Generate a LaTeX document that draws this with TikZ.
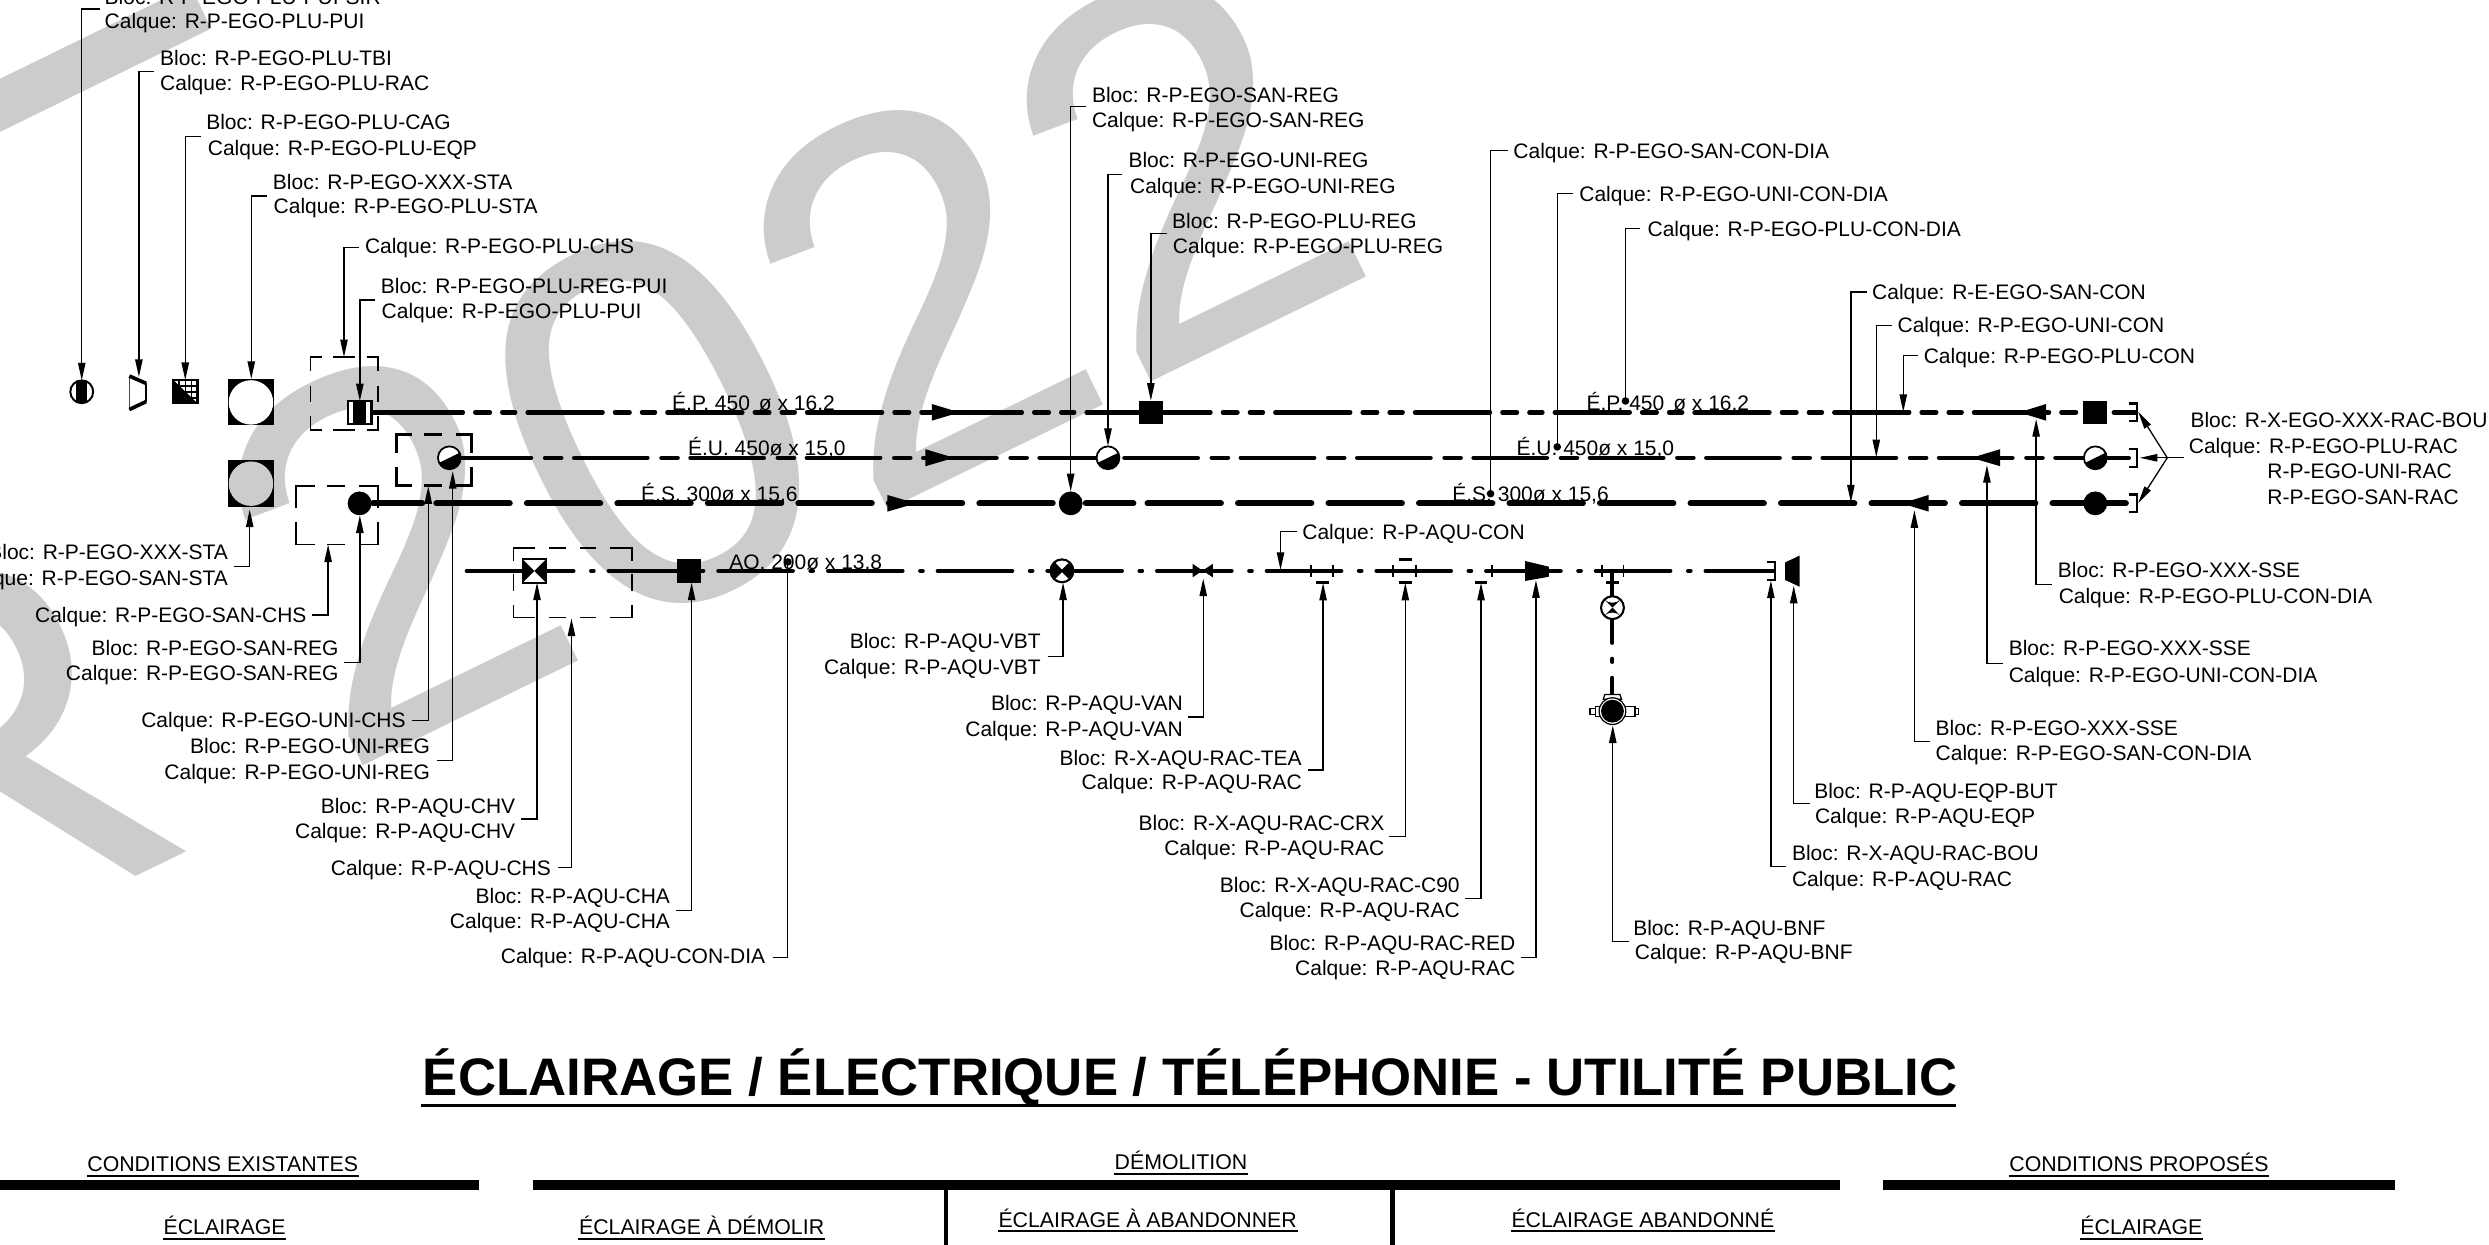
\documentclass[tikz,border=0pt]{standalone}
\usepackage{fontspec}
\setmainfont{Liberation Sans}
\usetikzlibrary{arrows.meta}
\newcommand\ldr[5]{\coordinate (#1s) at (#2,#4);\coordinate (#1e) at (#3,#4);\coordinate (#1t) at (#3,#5);\draw[leader,-{Triangle[length=5pt,width=2.1pt]}] (#1s)--(#1e)--(#1t);}
\newcommand\ldrd[5]{\coordinate (#1s) at (#2,#4);\coordinate (#1e) at (#3,#4);\coordinate (#1t) at (#3,#5);\draw[leader] (#1s)--(#1e)--(#1t);\fill (#1t) circle (2.4);}
\newcommand\labl[4]{\node[lbl,anchor=base west] (#1) at (#2-0.5,#3+4.75) {#4};}
\newcommand\labr[4]{\node[lbl,anchor=base east] (#1) at (#2+1,#3+4.75) {#4};}
\newcommand\blk[2]{\fill (#1,#2) circle (7.5);}
\newcommand\halfc[2]{\fill[white] (#1,#2) circle (7.4);\begin{scope}\clip (#1,#2) circle (7.4);\fill (#1-9,#2+4.4)--(#1+9,#2-4.4)--(#1+9,#2+9)--(#1-9,#2+9)--cycle;\end{scope}\draw[line width=.5pt] (#1,#2) circle (7.2);}
\newcommand\sqb[2]{\fill (#1-7.5,#2-7.4) rectangle (#1+7.5,#2+7.4);}
\newcommand\brk[2]{\draw[line width=.6pt] (#1-5,#2-5.6)--(#1,#2-5.6)--(#1,#2+5.6)--(#1-5,#2+5.6);}
\newcommand\tk[2]{\draw[line width=.5pt] (#1,#2-3.9)--(#1,#2+3.9);}
\newcommand\tb[2]{\draw[line width=.8pt] (#1-4,#2)--(#1+4,#2);}
% dashed frame: x0,y0,x1,y1, corner length x, corner length y
\newcommand\frm[6]{\draw (#1+#5,#2)--(#1,#2)--(#1,#2+#6) (#3-#5,#2)--(#3,#2)--(#3,#2+#6) (#1+#5,#4)--(#1,#4)--(#1,#4-#6) (#3-#5,#4)--(#3,#4)--(#3,#4-#6);}
\tikzset{
  x=0.015874cm,y=-0.015874cm,
  lbl/.style={inner sep=0pt,font=\fontsize{5.97}{7}\selectfont},
  leader/.style={line width=.37pt},
  epline/.style={line width=1.3pt,line cap=round,dash pattern=on 21.28pt off 3.56pt on 4.12pt off 3.56pt on 3.67pt off 3.56pt},
  euline/.style={line width=1.3pt,line cap=round,dash pattern=on 20.83pt off 4.01pt on 4.57pt off 3.69pt},
  esline/.style={line width=1.7pt,line cap=round,dash pattern=on 20.88pt off 4.86pt},
  aqline/.style={line width=1.15pt,line cap=round,dash pattern=on 21.21pt off 4.99pt on .75pt off 4.25pt},
  wmark/.style={inner sep=0pt,text=black!20,font=\fontsize{149.5}{150}\selectfont},
  hd/.style={inner sep=0pt,font=\fontsize{6.06}{7}\selectfont,anchor=base},
  ul/.style={line width=.45pt},
}
\begin{document}
\begin{tikzpicture}
\useasboundingbox (0,0) rectangle (1568,784);
\clip (0,0) rectangle (1568,784);
% watermark
\node[wmark,rotate=26,anchor=base west] (wm) at (-84,635) {R 2022};
\fill[black!20] (-10,88)--(133,18)--(120,-9)--(-10,54.5)--cycle;
% symbols top row
\draw[line width=.55pt] (51.5,246.8) circle (7.2);
\begin{scope}\clip (51.5,246.8) circle (7.2);\fill (47.9,238) rectangle (55.1,257);\end{scope}
\draw[line width=.3pt,black!70] (81.5,237)--(81.5,258);
\draw[line width=1.05pt] (81.5,236.9)--(92,241.5);
\draw[line width=.8pt] (92,241.5)--(92,253);
\draw[line width=1.05pt] (92,253)--(81.5,258);
\fill[white] (109.2,239.4) rectangle (124.4,254.1);
\foreach \t in {113,116.8,120.6} {\draw[line width=.5pt] (\t,239.4)--(\t,254.1);}
\foreach \t in {243.2,246.8,250.5} {\draw[line width=.5pt] (109.2,\t)--(124.4,\t);}
\draw[line width=.6pt] (109.2,239.4) rectangle (124.4,254.1);
\fill (109.2,239.4)--(124.4,254.1)--(109.2,254.1)--cycle;
\fill (143.5,239) rectangle (172.7,268);
\fill[white] (158.1,253.5) circle (14);
\fill (143.5,290) rectangle (172.7,319.5);
\fill[black!20] (158.1,304.7) circle (14);
% dashed frames
\begin{scope}[line width=.48pt]
\frm{195.7}{225}{238}{271}{7}{9}
\draw (210,225)--(223.7,225) (210,271)--(223.7,271) (195.7,243)--(195.7,253) (238,243)--(238,253);
\frm{186.5}{306.3}{238}{343}{12}{14}
\draw (206.3,306.3)--(217.5,306.3) (206.3,343)--(217.5,343);
\frm{323.4}{345.4}{398.2}{389}{13.7}{8}
\draw (346,345.4)--(356.4,345.4) (365.4,345.4)--(375.5,345.4) (346,389)--(356.4,389) (365.4,389)--(375.5,389)
 (323.4,361.8)--(323.4,372.3) (398.2,361.8)--(398.2,372.3);
\end{scope}
\begin{scope}[line width=.85pt]
\frm{249.5}{273.6}{297.2}{306}{10}{12}
\draw (267.3,273.6)--(278.7,273.6) (267.3,306)--(278.7,306);
\end{scope}
% main lines
\draw[line width=1.3pt] (234,259.8)--(244.5,259.8);
\draw[epline] (244.4,259.8)--(725,259.8);
\draw[epline] (715.4,259.8)--(1345.5,259.8);
\draw[euline] (288.4,288.4)--(698,288.4);
\draw[euline] (708.4,288.4)--(1345.5,288.4);
\draw[line width=1.7pt,line cap=round] (235,317.1)--(266,317.1);
\draw[esline] (274.9,317.1)--(674,317.1);
\draw[line width=1.7pt,line cap=round] (684,317.1)--(714,317.1);
\draw[esline] (722.9,317.1)--(1345.5,317.1);
\draw[line width=1.15pt,line cap=round] (294,359.6)--(314,359.6);
\draw[aqline] (314.3,359.6)--(1117.5,359.6);
% flow arrows
\fill (587,254.5)--(604.5,259.8)--(587,265)--cycle;
\fill (583,283)--(601,288.4)--(583,293.7)--cycle;
\fill (559,311.8)--(577,317.1)--(559,322.3)--cycle;
\fill (1289,254.5)--(1272,259.8)--(1289,265)--cycle;
\fill (1260,283)--(1242,288.4)--(1260,293.7)--cycle;
\fill (1215,311.8)--(1198,317.1)--(1215,322.3)--cycle;
% EGO symbols
\fill[white] (219,252.4) rectangle (234,267);
\fill (222.6,252.4) rectangle (230.6,267);
\draw[line width=.6pt] (219,252.4) rectangle (234,267);
\sqb{725}{259.8}\sqb{1320}{259.8}
\halfc{283.1}{288.4}\halfc{698}{288.4}\halfc{1320}{288.4}
\blk{226.5}{317.1}\blk{674.5}{317.1}\blk{1320}{317.1}
\brk{1346}{259.8}\brk{1346}{288.4}\brk{1346}{317.1}
% AQU symbols
\fill[white] (329.3,352.3) rectangle (344,367);
\fill (329.3,352.3)--(344,367)--(344,352.3)--(329.3,367)--cycle;
\draw[line width=.6pt] (329.3,352.3) rectangle (344,367);
\sqb{434}{359.6}
\fill[white] (669,359.6) circle (7.4);
\fill (669,359.6)--(663.8,354.4) arc (225:135:7.4)--cycle;
\fill (669,359.6)--(674.2,354.4) arc (-45:45:7.4)--cycle;
\draw[line width=.6pt] (669,359.6) circle (7.2);
\draw[line width=.5pt] (663.8,354.4)--(674.2,364.8) (663.8,364.8)--(674.2,354.4);
\fill (751.3,355.2)--(764,363.7)--(764,355.2)--(751.3,363.7)--cycle;
\tk{825.8}{359.6}\tk{839.9}{359.6}\tb{833.3}{367}
\tk{877.7}{359.6}\tk{892}{359.6}\tb{885.3}{367}\tb{885.3}{352.5}
\tb{933}{367}\tk{940}{359.6}
\fill (960.7,353.4)--(975.8,357)--(975.8,363.3)--(960.7,366)--cycle;
\tk{1009}{359.6}\tk{1022.8}{359.6}\tb{1015.8}{367}
\draw[line width=1.15pt,line cap=round] (1015.8,359.6)--(1015.8,376);
\draw[line width=1.15pt,line cap=round] (1015.8,390)--(1015.8,405);
\draw[line width=1.15pt,line cap=round] (1015.8,415)--(1015.8,417);
\draw[line width=1.15pt,line cap=round] (1015.8,427)--(1015.8,438);
\fill[white] (1015.8,382.8) circle (7.3);
\fill (1015.8,382.8)--(1010.6,377.6) arc (135:45:7.3)--cycle;
\fill (1015.8,382.8)--(1010.6,388) arc (225:315:7.3)--cycle;
\draw[line width=.6pt] (1015.8,382.8) circle (7.2);
\draw[line width=.35pt,fill=white] (1005,445) rectangle (1008,451.5);
\draw[line width=.35pt,fill=white] (1001.7,446.5) rectangle (1005,450);
\draw[line width=.35pt,fill=white] (1023.5,445) rectangle (1030,451.5);
\draw[line width=.35pt,fill=white] (1030,446.5) rectangle (1032,450);
\draw[line width=.35pt,fill=white] (1010,440.5)--(1011,437.5)--(1020.5,437.5)--(1021.5,440.5)--cycle;
\draw[line width=.35pt,fill=white] (1015.8,448) circle (8.4);
\fill (1015.8,448) circle (7.2);
\brk{1118}{359.6}
\fill (1124.6,354.3)--(1133.7,350)--(1133.7,369.6)--(1124.6,365.4)--cycle;
% line labels
\labl{lep1}{423.5}{254}{É.P. 450 \kern.9ptø x 16,2}
\labl{leu1}{433.5}{282.5}{É.U. 450ø x 15,0}
\labl{les1}{404}{311}{É.S. 300ø x 15,6}
\labl{laq1}{459.5}{354}{AQ. 200ø x 13,8}
\labl{lep2}{999.5}{254}{É.P. 450 \kern.9ptø x 16,2}
\labl{leu2}{955.5}{282.5}{É.U. 450ø x 15,0}
\labl{les2}{915}{311}{É.S. 300ø x 15,6}
% labels top left
\labl{a1a}{66}{-2}{Bloc: R-P-EGO-PLU-PUI-SIR}
\labl{a1b}{66}{13}{Calque: R-P-EGO-PLU-PUI}
\ldr{a1}{62.7}{51.5}{5.6}{239.6}
\labl{a2a}{101}{36.5}{Bloc: R-P-EGO-PLU-TBI}
\labl{a2b}{101}{52}{Calque: R-P-EGO-PLU-RAC}
\ldr{a2}{97}{87.5}{45}{237.5}
\labl{a3a}{130}{77}{Bloc: R-P-EGO-PLU-CAG}
\labl{a3b}{131}{93}{Calque: R-P-EGO-PLU-EQP}
\ldr{a3}{126.7}{116.7}{86}{239.4}
\labl{a4a}{172}{114.5}{Bloc: R-P-EGO-XXX-STA}
\labl{a4b}{172.5}{130}{Calque: R-P-EGO-PLU-STA}
\ldr{a4}{168}{158.3}{123.4}{238.7}
\labl{a5b}{230}{155}{Calque: R-P-EGO-PLU-CHS}
\ldr{a5}{226}{216.7}{155.8}{225}
\labl{a6a}{240}{180}{Bloc: R-P-EGO-PLU-REG-PUI}
\labl{a6b}{240.5}{196}{Calque: R-P-EGO-PLU-PUI}
\ldr{a6}{236}{226.7}{189}{252.7}
% labels lower left
\labr{b1a}{143}{348}{Bloc: R-P-EGO-XXX-STA}
\labr{b1b}{143}{364.4}{Calque: R-P-EGO-SAN-STA}
\ldr{b1}{147.7}{157.3}{357}{321}
\labr{b2b}{192.5}{387.5}{Calque: R-P-EGO-SAN-CHS}
\ldr{b2}{196.7}{206.7}{387.5}{343}
\labr{b3a}{212.7}{408}{Bloc: R-P-EGO-SAN-REG}
\labr{b3b}{212.7}{424}{Calque: R-P-EGO-SAN-REG}
\ldr{b3}{216.7}{226.7}{417.5}{324.7}
\labr{b4b}{255}{453.7}{Calque: R-P-EGO-UNI-CHS}
\ldr{b4}{259.3}{269.8}{454}{306.3}
\labr{b5a}{270.3}{470}{Bloc: R-P-EGO-UNI-REG}
\labr{b5b}{270.3}{486}{Calque: R-P-EGO-UNI-REG}
\ldr{b5}{275}{285.2}{479}{296.8}
\labr{b6a}{324}{508}{Bloc: R-P-AQU-CHV}
\labr{b6b}{324}{523.7}{Calque: R-P-AQU-CHV}
\ldr{b6}{328.3}{338.3}{516}{367}
\labr{b7b}{346.5}{546.5}{Calque: R-P-AQU-CHS}
\ldr{b7}{351.7}{360}{546.7}{389.6}
\labr{b8a}{421.5}{564.5}{Bloc: R-P-AQU-CHA}
\labr{b8b}{421.5}{580}{Calque: R-P-AQU-CHA}
\ldr{b8}{426}{435.7}{573.4}{367}
\labr{b9b}{481.5}{602}{Calque: R-P-AQU-CON-DIA}
\ldrd{b9}{486.7}{496.3}{603.4}{354}
% labels middle top
\labl{c1a}{688}{60}{Bloc: R-P-EGO-SAN-REG}
\labl{c1b}{688}{75.5}{Calque: R-P-EGO-SAN-REG}
\ldr{c1}{684}{674.5}{67}{309.5}
\labl{c2a}{711}{101}{Bloc: R-P-EGO-UNI-REG}
\labl{c2b}{712}{117}{Calque: R-P-EGO-UNI-REG}
\ldr{c2}{707}{698}{110}{281}
\labl{c3a}{738.5}{139}{Bloc: R-P-EGO-PLU-REG}
\labl{c3b}{739}{155}{Calque: R-P-EGO-PLU-REG}
\ldr{c3}{735}{725}{147}{252.4}
\labl{c4b}{953.5}{95}{Calque: R-P-EGO-SAN-CON-DIA}
\ldrd{c4}{950}{939}{95}{311}
\labl{c5b}{995}{122}{Calque: R-P-EGO-UNI-CON-DIA}
\ldrd{c5}{991}{981}{122}{281.5}
\labl{c6b}{1038}{144}{Calque: R-P-EGO-PLU-CON-DIA}
\ldrd{c6}{1033}{1024}{144}{252.6}
\labl{c7b}{1179.5}{184}{Calque: R-E-EGO-SAN-CON}
\ldr{c7}{1176}{1166}{184}{316.5}
\labl{c8b}{1195.5}{205}{Calque: R-P-EGO-UNI-CON}
\ldr{c8}{1192}{1182}{205}{288}
\labl{c9b}{1212}{224}{Calque: R-P-EGO-PLU-CON}
\ldr{c9}{1208}{1199}{224}{259.5}
\labl{c0b}{820.5}{335}{Calque: R-P-AQU-CON}
\ldr{c0}{817}{806.7}{335}{359}
% right group
\labl{d1a}{1380}{264.8}{Bloc: R-X-EGO-XXX-RAC-BOU}
\labl{d1b}{1379}{281}{Calque: R-P-EGO-PLU-RAC}
\labl{d1c}{1428.5}{297}{R-P-EGO-UNI-RAC}
\labl{d1d}{1428.5}{313}{R-P-EGO-SAN-RAC}
\coordinate (d0) at (1375.7,288.4);\coordinate (d1) at (1365.3,288.4);
\coordinate (d2) at (1347,259.4);\coordinate (d3) at (1348,288.4);\coordinate (d4) at (1347,317);
\draw[leader,-{Triangle[length=5pt,width=2.1pt]}] (d0)--(d3);
\draw[leader,-{Triangle[length=5pt,width=2.1pt]}] (d1)--(d2);
\draw[leader,-{Triangle[length=5pt,width=2.1pt]}] (d1)--(d4);
\labl{e1a}{1296.5}{359}{Bloc: R-P-EGO-XXX-SSE}
\labl{e1b}{1297}{375.5}{Calque: R-P-EGO-PLU-CON-DIA}
\ldr{e1}{1292.6}{1282.7}{368}{264}
\labl{e2a}{1265.5}{408.5}{Bloc: R-P-EGO-XXX-SSE}
\labl{e2b}{1265.5}{425}{Calque: R-P-EGO-UNI-CON-DIA}
\ldr{e2}{1261.7}{1251.7}{418}{293}
\labl{e3a}{1219.5}{458.5}{Bloc: R-P-EGO-XXX-SSE}
\labl{e3b}{1219.5}{474.5}{Calque: R-P-EGO-SAN-CON-DIA}
\ldr{e3}{1216}{1206}{467.3}{321.5}
% AQU lower
\labr{f1a}{655}{404}{Bloc: R-P-AQU-VBT}
\labr{f1b}{655}{420}{Calque: R-P-AQU-VBT}
\ldr{f1}{660}{669.7}{413.4}{367}
\labr{f2a}{744.5}{443}{Bloc: R-P-AQU-VAN}
\labr{f2b}{744.5}{459}{Calque: R-P-AQU-VAN}
\ldr{f2}{748.3}{758}{451.6}{364.5}
\labr{f3a}{819.5}{477.5}{Bloc: R-X-AQU-RAC-TEA}
\labr{f3b}{819.5}{492.5}{Calque: R-P-AQU-RAC}
\ldr{f3}{824}{833.5}{485}{367.2}
\labr{f4a}{871.5}{518.5}{Bloc: R-X-AQU-RAC-CRX}
\labr{f4b}{871.5}{534}{Calque: R-P-AQU-RAC}
\ldr{f4}{875}{885.3}{527}{367.2}
\labr{f5a}{919}{557.5}{Bloc: R-X-AQU-RAC-C90}
\labr{f5b}{919}{573.5}{Calque: R-P-AQU-RAC}
\ldr{f5}{923}{933}{566}{367.2}
\labr{f6a}{954}{594}{Bloc: R-P-AQU-RAC-RED}
\labr{f6b}{954}{610}{Calque: R-P-AQU-RAC}
\ldr{f6}{958}{967.6}{603}{365.5}
\labl{g1a}{1029}{584.5}{Bloc: R-P-AQU-BNF}
\labl{g1b}{1030}{600}{Calque: R-P-AQU-BNF}
\ldr{g1}{1026}{1016}{593}{457}
\labl{g2a}{1129}{537.5}{Bloc: R-X-AQU-RAC-BOU}
\labl{g2b}{1129}{554}{Calque: R-P-AQU-RAC}
\ldr{g2}{1125}{1115.6}{546}{365.8}
\labl{g3a}{1143}{498}{Bloc: R-P-AQU-EQP-BUT}
\labl{g3b}{1143.5}{514}{Calque: R-P-AQU-EQP}
\ldr{g3}{1140}{1130}{506}{369}
% title
\node[inner sep=0pt,anchor=base west,font=\fontsize{15.02}{18}\selectfont\bfseries] (title) at (266,690) {ÉCLAIRAGE / ÉLECTRIQUE / TÉLÉPHONIE - UTILITÉ PUBLIC};
\draw[line width=.6pt] (265,696.4)--(1232,696.4);
% legend heads
\fill (-2,743.4) rectangle (302,749.7);
\fill (336,743.4) rectangle (1159,749.7);
\fill (1186,743.4) rectangle (1509,749.7);
\fill (594.7,749) rectangle (597.5,784);
\fill (875.7,749) rectangle (878.5,784);
\node[hd] (h1) at (140.3,738) {CONDITIONS EXISTANTES};
\node[hd] (h2) at (744,737) {DÉMOLITION};
\node[hd] (h3) at (1347.5,738) {CONDITIONS PROPOSÉS};
\node[hd] (h4) at (141.5,778) {ÉCLAIRAGE};
\node[hd] (h5) at (442,778) {ÉCLAIRAGE À DÉMOLIR};
\node[hd] (h6) at (723,773) {ÉCLAIRAGE À ABANDONNER};
\node[hd] (h7) at (1035,773) {ÉCLAIRAGE ABANDONNÉ};
\node[hd] (h8) at (1349,778) {ÉCLAIRAGE};
\draw[ul] ([yshift=-1.2pt]h1.base west)--([yshift=-1.2pt]h1.base east);
\draw[ul] ([yshift=-1.2pt]h2.base west)--([yshift=-1.2pt]h2.base east);
\draw[ul] ([yshift=-1.2pt]h3.base west)--([yshift=-1.2pt]h3.base east);
\draw[ul] ([yshift=-1.2pt]h4.base west)--([yshift=-1.2pt]h4.base east);
\draw[ul] ([yshift=-1.2pt]h5.base west)--([yshift=-1.2pt]h5.base east);
\draw[ul] ([yshift=-1.2pt]h6.base west)--([yshift=-1.2pt]h6.base east);
\draw[ul] ([yshift=-1.2pt]h7.base west)--([yshift=-1.2pt]h7.base east);
\draw[ul] ([yshift=-1.2pt]h8.base west)--([yshift=-1.2pt]h8.base east);
\end{tikzpicture}
\end{document}
